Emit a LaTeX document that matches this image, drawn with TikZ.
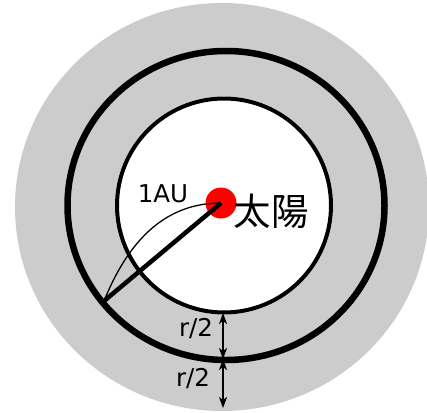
\documentclass[tikz,border=0pt]{standalone}
\usepackage{fontspec}
\setmainfont{DejaVu Sans}
\newfontfamily\cjk{Noto Sans CJK JP}
\usetikzlibrary{arrows.meta}
\begin{document}
\begin{tikzpicture}[x=1pt,y=-1pt,
  lbl/.style={inner sep=0pt,font=\fontsize{24.5}{24.5}\selectfont},
  dim/.style={line width=1.6pt,{Stealth[length=11pt,width=8pt,inset=3pt]}-{Stealth[length=11pt,width=8pt,inset=3pt]}}]
\useasboundingbox (0,0) rectangle (427,412);
\fill[fill={rgb,255:red,204;green,204;blue,204}] (222,207) ellipse [x radius=207,y radius=204];
\fill[white] (224,205.5) circle (109);
\draw[line width=4pt] (224,205.5) circle (107);
\draw[line width=6.5pt] (226,205.5) ellipse [x radius=158.5,y radius=154.5];
\fill[red] (221,203) circle (15.5);
\coordinate (sun) at (221,203);
\coordinate (p) at (104,301);
\draw[line width=1.3pt] (p) to[out=68,in=180] (sun);
\draw[line width=4.5pt] (p) -- (sun);
\node[lbl] (au) at (163,194) {1AU};
\node[inner sep=0pt,font=\cjk\fontsize{37.5}{37.5}\selectfont] (taiyo) at (271,211) {太陽};
\coordinate (a1) at (223,313);
\coordinate (a2) at (223,359);
\coordinate (a3) at (223,408);
\draw[dim] (a1) -- (a2);
\draw[dim] (a2) -- (a3);
\node[lbl] (r1) at (196,329) {r/2};
\node[lbl] (r2) at (193,379) {r/2};
\end{tikzpicture}
\end{document}
